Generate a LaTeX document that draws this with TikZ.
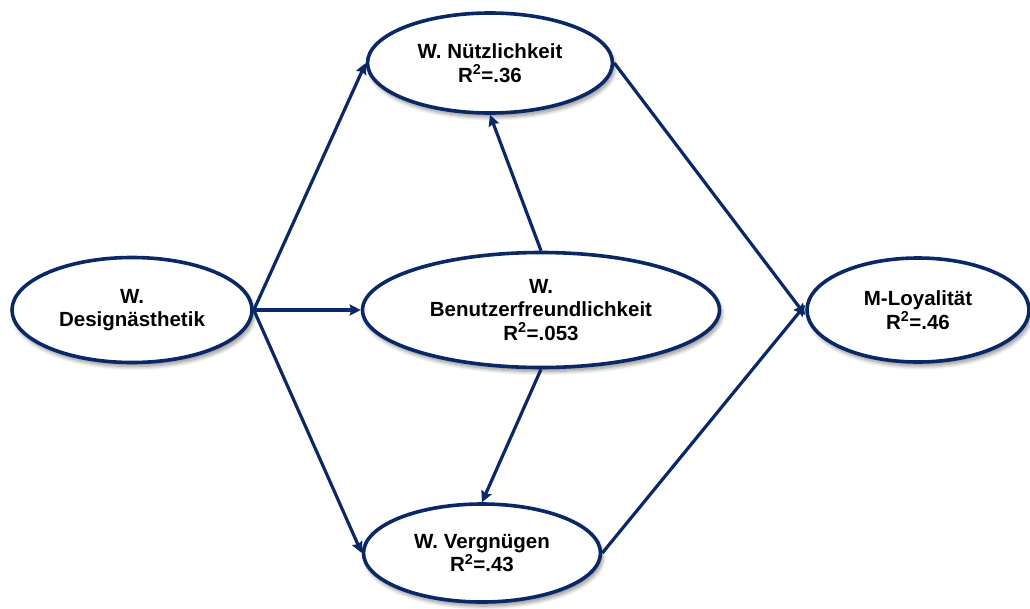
\documentclass[tikz,border=0pt]{standalone}
\usepackage{fontspec}
\setmainfont{Liberation Sans}
\usetikzlibrary{shapes.geometric,arrows.meta,shadows.blur}
\definecolor{navy}{HTML}{0B2866}
\begin{document}
\begin{tikzpicture}[x=1pt,y=-1pt,
  construct/.style={ellipse, draw=navy, line width=3.6pt, fill=white, inner sep=0pt,
    align=center, font=\fontsize{20.5}{23.5}\selectfont\bfseries,
    blur shadow={shadow xshift=2pt, shadow yshift=-4pt, shadow blur radius=4pt, shadow blur steps=8, shadow opacity=45}},
  path/.style={draw=navy, line width=3.2pt, -{Stealth[length=11pt,width=11pt,inset=1.5pt]}}]
\useasboundingbox (0,0) rectangle (1030,608);
\node[construct, minimum width=240pt, minimum height=105pt] (des) at (132,310) {W.\\Designästhetik};
\node[construct, minimum width=245pt, minimum height=100pt] (nut) at (490,63) {W. Nützlichkeit\\R\textsuperscript{2}=.36};
\node[construct, minimum width=357pt, minimum height=115pt] (ben) at (541,310) {W.\\Benutzerfreundlichkeit\\R\textsuperscript{2}=.053};
\node[construct, minimum width=237pt, minimum height=98pt] (ver) at (482,553) {W. Vergnügen\\R\textsuperscript{2}=.43};
\node[construct, minimum width=222pt, minimum height=104pt] (loy) at (918,310) {M-Loyalität\\R\textsuperscript{2}=.46};
\path[path] (des.east) -- (nut.west);
\path[path] (des.east) -- (ben.west);
\path[path] (des.east) -- (ver.west);
\path[path] (ben.north) -- (nut.south);
\path[path] (ben.south) -- (ver.north);
\path[path] (nut.east) -- ([yshift=-5pt]loy.west);
\path[path] (ver.east) -- ([yshift=5pt]loy.west);
\end{tikzpicture}
\end{document}
